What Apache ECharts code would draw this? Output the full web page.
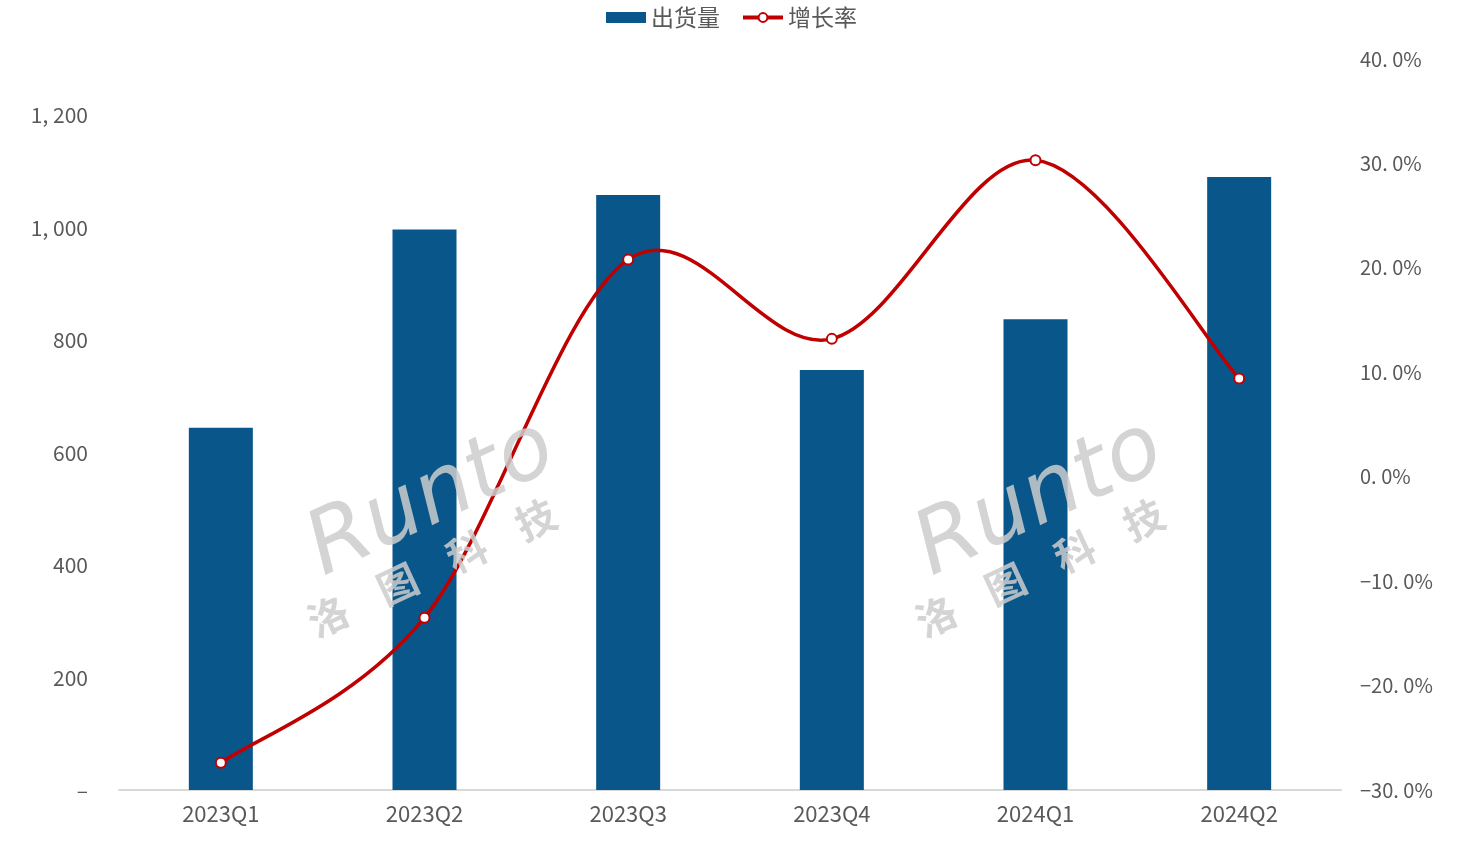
<!DOCTYPE html>
<html>
<head>
<meta charset="utf-8">
<script src="https://cdn.jsdelivr.net/npm/echarts@6/dist/echarts.min.js"></script>
<style>html,body{margin:0;padding:0;background:#fff;}#c{width:1476px;height:846px;}</style>
</head>
<body>
<div id="c"></div>
<script>
const categories = ['2023Q1','2023Q2','2023Q3','2023Q4','2024Q1','2024Q2'];
const shipments = [644, 997, 1058, 747, 837, 1090];
const growth = [-27.4, -13.5, 20.8, 13.2, 30.3, 9.4];
const seriesNames = ['出货量', '增长率'];

const FONT = '"Noto Sans CJK SC", "Noto Sans", sans-serif';
const LINE_COLOR = '#C00000';
const chart = echarts.init(document.getElementById('c'));

function fmtLeft(v) {
  if (v === 0) return '–';
  const s = String(v);
  if (s.length > 3) return s.slice(0, s.length - 3) + ', ' + s.slice(-3);
  return s;
}
function fmtRight(v) {
  const a = Math.abs(v).toFixed(1).replace('.', '. ');
  return (v < 0 ? '−' : '') + a + '%';
}

function watermark(cx, cy) {
  return [
    {type: 'text', x: cx, y: cy, rotation: 25 * Math.PI / 180, z: 100,
     style: {text: 'Runto', fill: 'rgba(205,205,205,0.85)', font: 'italic 88px "DejaVu Sans", sans-serif', align: 'center', verticalAlign: 'middle'}},
    {type: 'text', x: cx, y: cy + 68, rotation: 25 * Math.PI / 180, z: 100,
     style: {text: '洛    图    科    技', fill: 'rgba(205,205,205,0.85)', font: 'bold 40px "Noto Sans CJK SC", sans-serif', align: 'center', verticalAlign: 'middle'}}
  ];
}

// Smooth curve (Catmull-Rom style, like spreadsheet smoothing) drawn through axis coordinates
function renderCurve(params, api) {
  const pts = growth.map((v, i) => api.coord([i, v]));
  const n = pts.length;
  let d = 'M' + pts[0][0] + ' ' + pts[0][1];
  for (let i = 0; i < n - 1; i++) {
    const p0 = pts[Math.max(i - 1, 0)], p1 = pts[i], p2 = pts[i + 1], p3 = pts[Math.min(i + 2, n - 1)];
    const c1 = [p1[0] + (p2[0] - p0[0]) / 6, p1[1] + (p2[1] - p0[1]) / 6];
    const c2 = [p2[0] - (p3[0] - p1[0]) / 6, p2[1] - (p3[1] - p1[1]) / 6];
    d += ' C' + c1[0] + ' ' + c1[1] + ' ' + c2[0] + ' ' + c2[1] + ' ' + p2[0] + ' ' + p2[1];
  }
  return {
    type: 'path',
    shape: {pathData: d},
    style: {fill: null, stroke: LINE_COLOR, lineWidth: 3.5},
    silent: true
  };
}

chart.setOption({
  animation: false,
  backgroundColor: '#fff',
  textStyle: {fontFamily: FONT},
  legend: {
    top: 1,
    left: 601,
    itemWidth: 40,
    itemHeight: 11,
    itemGap: 21,
    textStyle: {fontSize: 23, color: '#595959', fontFamily: FONT},
    data: [
      {name: seriesNames[0], icon: 'rect'},
      {name: seriesNames[1], lineStyle: {color: LINE_COLOR, width: 4, opacity: 1}}
    ]
  },
  grid: {left: 119, right: 135, top: 59, bottom: 56},
  xAxis: {
    type: 'category',
    data: categories,
    axisLine: {lineStyle: {color: '#D9D9D9', width: 2}},
    axisTick: {show: false},
    axisLabel: {fontSize: 22, color: '#595959', margin: 13, fontFamily: FONT}
  },
  yAxis: [
    {
      type: 'value', min: 0, max: 1300, interval: 200,
      splitLine: {show: false},
      axisLine: {show: false}, axisTick: {show: false},
      axisLabel: {fontSize: 21, color: '#595959', margin: 31, showMaxLabel: false, formatter: fmtLeft, fontFamily: FONT}
    },
    {
      type: 'value', min: -30, max: 40, interval: 10,
      splitLine: {show: false},
      axisLine: {show: false}, axisTick: {show: false},
      axisLabel: {fontSize: 20, color: '#595959', margin: 19, formatter: fmtRight, fontFamily: FONT}
    }
  ],
  series: [
    {
      name: seriesNames[0], type: 'bar', data: shipments, barWidth: 64,
      itemStyle: {color: '#08568A'}, z: 1
    },
    {
      name: seriesNames[1] + '_curve', type: 'custom', yAxisIndex: 1,
      data: [0], renderItem: renderCurve, z: 4, silent: true
    },
    {
      name: seriesNames[1], type: 'line', yAxisIndex: 1, data: growth,
      symbol: 'circle', symbolSize: 10,
      lineStyle: {color: LINE_COLOR, width: 3.5, opacity: 0},
      itemStyle: {color: '#fff', borderColor: LINE_COLOR, borderWidth: 2},
      z: 5
    }
  ],
  graphic: watermark(432, 500).concat(watermark(1040, 500))
});
</script>
</body>
</html>
